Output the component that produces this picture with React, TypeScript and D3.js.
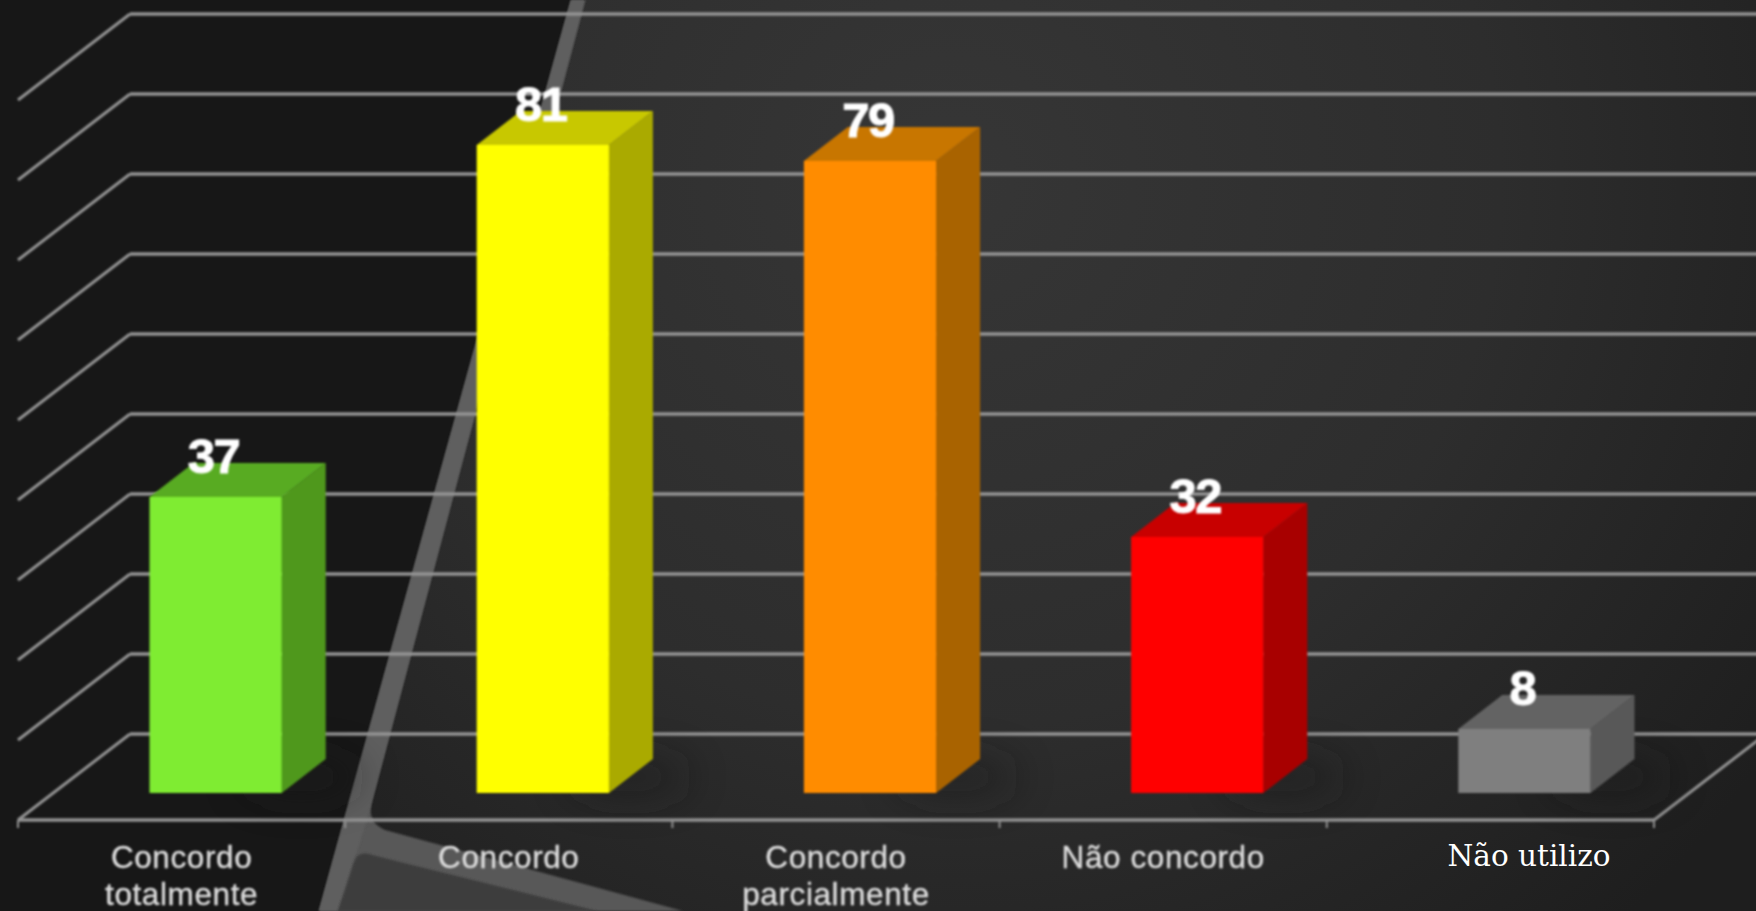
import React, { useEffect, useRef } from "react";
import * as d3 from "d3";

const categories = ["Concordo totalmente", "Concordo", "Concordo parcialmente", "Não concordo", "Não utilizo"];
const values = [37, 81, 79, 32, 8];
const gridTicks = [0, 10, 20, 30, 40, 50, 60, 70, 80, 90];

const frontColors = ["#7fec32", "#ffff00", "#ff8c00", "#ff0000", "#7f7f7f"];
const sideColors = ["#4f981f", "#aaaa00", "#a96300", "#a80000", "#585858"];
const topColors = ["#58ab22", "#c8c800", "#c87600", "#c80000", "#646464"];

const width = 1756;
const height = 911;

export default function App() {
  const ref = useRef<SVGSVGElement | null>(null);

  useEffect(() => {
    const svg = d3.select(ref.current);
    svg.selectAll("*").remove();

    const axisY = 820; // front edge of the floor
    const backDx = 112; // floor depth
    const backDy = 86;
    const barBase = 793;
    const barDx = 44; // bar depth
    const barDy = 34;
    const axisLeft = 18;
    const axisRight = 1654;

    const x = d3.scaleBand<string>()
      .domain(categories)
      .range([axisLeft, axisRight])
      .paddingInner(0.596)
      .paddingOuter(0.298);

    const y = d3.scaleLinear()
      .domain([0, 90])
      .range([734, 14]);

    const barShift = 34; // bars stand a bit behind the front edge

    const defs = svg.append("defs");

    const grad = defs.append("radialGradient")
      .attr("id", "panel")
      .attr("gradientUnits", "userSpaceOnUse")
      .attr("cx", 950).attr("cy", 180).attr("r", 1000);
    grad.append("stop").attr("offset", 0).attr("stop-color", "#363636");
    grad.append("stop").attr("offset", 0.55).attr("stop-color", "#2d2d2d");
    grad.append("stop").attr("offset", 1).attr("stop-color", "#1e1e1e");

    defs.append("filter").attr("id", "soft")
      .attr("x", "-10%").attr("y", "-10%").attr("width", "120%").attr("height", "120%")
      .append("feGaussianBlur").attr("stdDeviation", 1);
    defs.append("filter").attr("id", "textsoft")
      .attr("x", "-10%").attr("y", "-10%").attr("width", "120%").attr("height", "120%")
      .append("feGaussianBlur").attr("stdDeviation", 0.8);
    defs.append("filter").attr("id", "shadow")
      .attr("x", "-100%").attr("y", "-400%").attr("width", "300%").attr("height", "900%")
      .append("feGaussianBlur").attr("stdDeviation", 20);

    // background
    svg.append("rect").attr("width", width).attr("height", height).attr("fill", "#171717");
    svg.append("path")
      .attr("d", "M585,0 L1756,0 L1756,911 L338,911 Z")
      .attr("fill", "url(#panel)");
    svg.append("path")
      .attr("d", "M571,0 L585,0 L372,800 Q366,822 385,830 L683,911 L338,911 Z M571,0 L319,911 L338,911 Z")
      .attr("fill", "#585858")
      .attr("filter", "url(#soft)");
    svg.append("path")
      .attr("d", "M571,0 L585,0 L367,820 L338,911 L319,911 Z")
      .attr("fill", "#5e5e5e")
      .attr("filter", "url(#soft)");
    svg.append("path")
      .attr("d", "M338,911 L354,862 Q358,850 372,855 L597,911 Z")
      .attr("fill", "#3c3c3c")
      .attr("filter", "url(#soft)");

    const scene = svg.append("g").attr("filter", "url(#soft)");

    // grid lines on back wall + side wall
    const gridColor = "#939393";
    scene.append("g").selectAll("line.back")
      .data(gridTicks)
      .enter()
      .append("line")
      .attr("x1", axisLeft + backDx)
      .attr("x2", width + 20)
      .attr("y1", d => y(d))
      .attr("y2", d => y(d))
      .attr("stroke", gridColor)
      .attr("stroke-width", 3.5);

    scene.append("g").selectAll("line.side")
      .data(gridTicks)
      .enter()
      .append("line")
      .attr("x1", axisLeft)
      .attr("y1", d => y(d) + backDy)
      .attr("x2", axisLeft + backDx)
      .attr("y2", d => y(d))
      .attr("stroke", gridColor)
      .attr("stroke-width", 3);

    // floor
    scene.append("line")
      .attr("x1", axisLeft).attr("x2", axisRight)
      .attr("y1", axisY).attr("y2", axisY)
      .attr("stroke", gridColor).attr("stroke-width", 3.5);
    scene.append("line")
      .attr("x1", axisRight).attr("y1", axisY)
      .attr("x2", axisRight + backDx).attr("y2", axisY - backDy)
      .attr("stroke", gridColor).attr("stroke-width", 3);

    const tickXs = categories.map(c => (x(c) as number) + x.bandwidth() / 2 - x.step() / 2)
      .concat(axisRight);
    scene.append("g").selectAll("line")
      .data(tickXs)
      .enter()
      .append("line")
      .attr("x1", d => d).attr("x2", d => d)
      .attr("y1", axisY).attr("y2", axisY + 8)
      .attr("stroke", gridColor).attr("stroke-width", 2);

    // soft shadows on floor
    svg.append("g").selectAll("ellipse")
      .data(categories)
      .enter()
      .append("ellipse")
      .attr("cx", d => (x(d) as number) + barShift + x.bandwidth() + 20)
      .attr("cy", barBase - 16)
      .attr("rx", 60)
      .attr("ry", 18)
      .attr("fill", "#1c1c1c")
      .attr("opacity", 0.55)
      .attr("filter", "url(#shadow)");

    // bars
    const bars = svg.append("g").attr("filter", "url(#soft)").selectAll("g")
      .data(categories)
      .enter()
      .append("g");

    const left = (c: string) => (x(c) as number) + barShift;
    const right = (c: string) => left(c) + x.bandwidth();
    const top = (i: number) => barBase - (y(0) - y(values[i]));

    bars.append("path")
      .attr("d", (c, i) => {
        const p = d3.path();
        p.moveTo(right(c), top(i));
        p.lineTo(right(c) + barDx, top(i) - barDy);
        p.lineTo(right(c) + barDx, barBase - barDy);
        p.lineTo(right(c), barBase);
        p.closePath();
        return p.toString();
      })
      .attr("fill", (c, i) => sideColors[i]);

    bars.append("path")
      .attr("d", (c, i) => {
        const p = d3.path();
        p.moveTo(left(c), top(i));
        p.lineTo(left(c) + barDx, top(i) - barDy);
        p.lineTo(right(c) + barDx, top(i) - barDy);
        p.lineTo(right(c), top(i));
        p.closePath();
        return p.toString();
      })
      .attr("fill", (c, i) => topColors[i]);

    bars.append("rect")
      .attr("x", c => left(c))
      .attr("y", (c, i) => top(i))
      .attr("width", x.bandwidth())
      .attr("height", (c, i) => barBase - top(i))
      .attr("fill", (c, i) => frontColors[i]);

    // value labels
    svg.append("g").attr("filter", "url(#textsoft)").selectAll("text")
      .data(categories)
      .enter()
      .append("text")
      .attr("x", c => left(c) + x.bandwidth() / 2 - 2)
      .attr("y", (c, i) => top(i) - 24)
      .attr("text-anchor", "middle")
      .attr("font-family", "'Liberation Sans', Arial, sans-serif")
      .attr("font-weight", "bold")
      .attr("font-size", 49)
      .attr("letter-spacing", -1.5)
      .attr("fill", "#ffffff")
      .attr("stroke", "#ffffff")
      .attr("stroke-width", 1)
      .text((c, i) => values[i]);

    // category labels, last one is in another font in the original
    const labels = svg.append("g").selectAll("text")
      .data(categories)
      .enter()
      .append("text")
      .attr("x", c => (x(c) as number) + x.bandwidth() / 2)
      .attr("y", 868)
      .attr("text-anchor", "middle")
      .attr("fill", "#dcdcdc")
      .attr("font-family", "'Liberation Sans', Arial, sans-serif")
      .attr("font-size", 31.5)
      .attr("letter-spacing", 0.6)
      .attr("stroke", "#dcdcdc")
      .attr("stroke-width", 0.4)
      .attr("filter", "url(#textsoft)");

    labels.each(function (c) {
      const t = d3.select(this);
      const parts = c === "Concordo totalmente" || c === "Concordo parcialmente" ? c.split(" ") : [c];
      parts.forEach((part, i) => {
        t.append("tspan")
          .attr("x", (x(c) as number) + x.bandwidth() / 2)
          .attr("dy", i === 0 ? 0 : 37)
          .text(part);
      });
    });

    labels.filter(c => c === "Não utilizo")
      .attr("filter", null)
      .attr("fill", "#ffffff")
      .attr("stroke", "none")
      .attr("font-family", "'DejaVu Serif', serif")
      .attr("font-size", 29.5)
      .attr("letter-spacing", 0)
      .attr("y", 866)
      .selectAll("tspan")
      .attr("x", 1529);
  }, []);

  return (
    <svg
      ref={ref}
      width={width}
      height={height}
      style={{ position: "fixed", left: 0, top: 0, display: "block" }}
    />
  );
}
